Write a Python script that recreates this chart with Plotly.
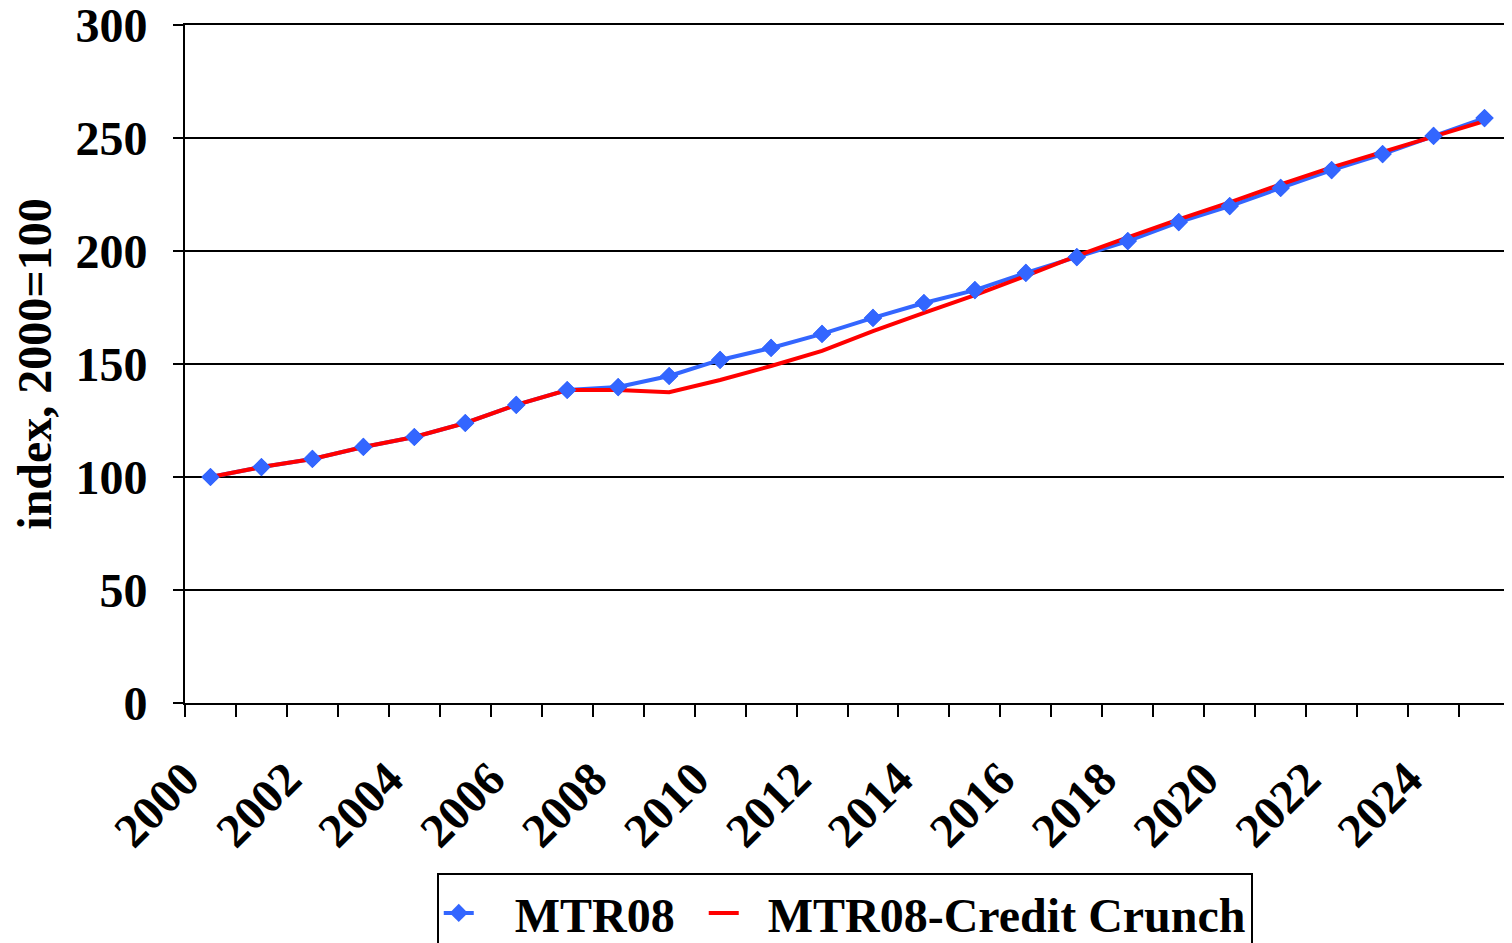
import plotly.graph_objects as go

# index values, 2000=100
years = list(range(2000, 2026))
mtr08 = [100, 104.4, 108, 113.3, 117.7, 123.9, 131.9, 138.5, 139.8, 144.7,
         151.8, 157.1, 163.3, 170.4, 177, 182.7, 190.3, 197.3, 204.4, 212.8,
         219.9, 227.9, 235.8, 242.9, 250.9, 258.8]
mtr08_crunch = [100, 104.4, 108, 113.3, 117.7, 123.9, 131.9, 138.5, 138.5, 137.5,
                142.9, 149.1, 155.8, 164.5, 172.6, 180.5, 189, 197.8, 206, 214,
                221.5, 229.5, 237, 243.8, 250.5, 257.5]
label_years = list(range(2000, 2026, 2))

BLUE = '#3366FF'
RED = '#FF0000'
FONT = 'Liberation Serif'
FS = 48
NB = '\u00a0'

fig = go.Figure()

fig.add_trace(go.Scatter(
    x=years, y=mtr08, name=NB * 3 + 'MTR08' + NB * 2,
    mode='lines+markers',
    line=dict(color=BLUE, width=4),
    marker=dict(symbol='diamond', size=14, color=BLUE),
))
fig.add_trace(go.Scatter(
    x=years, y=mtr08_crunch, name=NB * 2 + 'MTR08-Credit Crunch',
    mode='lines',
    line=dict(color=RED, width=4),
))
# markers drawn over the red line, like Excel does
fig.add_trace(go.Scatter(
    x=years, y=mtr08, mode='markers', showlegend=False,
    marker=dict(symbol='diamond', size=14, color=BLUE),
    hoverinfo='skip',
))

# margins trimmed for the page's 8px body margin; legend may run off the bottom
fig.update_layout(
    width=1512, height=943,
    margin=dict(l=177, r=10, t=17, b=248, autoexpand=False),
    plot_bgcolor='white', paper_bgcolor='white',
    font=dict(family=FONT, size=FS, color='black'),
    legend=dict(
        orientation='h', x=0.190, xanchor='left', y=-0.251, yanchor='top',
        bordercolor='black', borderwidth=2,
        font=dict(family=FONT, size=FS, color='black', weight='bold'),
    ),
    showlegend=True,
)

# Excel puts the rotated label's corner at the category centre;
# trailing nbsp pushes the visible text down-left like that
pad = NB * 3
fig.update_xaxes(
    range=[1999.5, 2025.5],
    automargin=False,
    tickmode='array',
    tickvals=label_years,
    ticktext=[str(y) + pad for y in label_years],
    tickangle=-45,
    ticks='', ticklabelstandoff=1,
    ticklabeloverflow='allow',
    tickfont=dict(family=FONT, size=FS, weight='bold'),
    minor=dict(tick0=1999.5, dtick=1, ticks='outside', ticklen=12,
               tickwidth=2, tickcolor='black', showgrid=False),
    showgrid=False, zeroline=False,
    showline=True, linecolor='black', linewidth=2, mirror=True,
)

fig.update_yaxes(
    range=[0, 300], dtick=50,
    automargin=False,
    ticks='outside', ticklen=10, tickwidth=2, tickcolor='black',
    ticklabelstandoff=16,
    ticklabeloverflow='allow',
    tickfont=dict(family=FONT, size=FS, weight='bold'),
    showgrid=True, gridcolor='black', gridwidth=2,
    zeroline=False,
    showline=True, linecolor='black', linewidth=2, mirror=True,
    title=dict(text='index, 2000=100', standoff=20,
               font=dict(family=FONT, size=FS, weight='bold')),
)

fig.write_html('out.html')
